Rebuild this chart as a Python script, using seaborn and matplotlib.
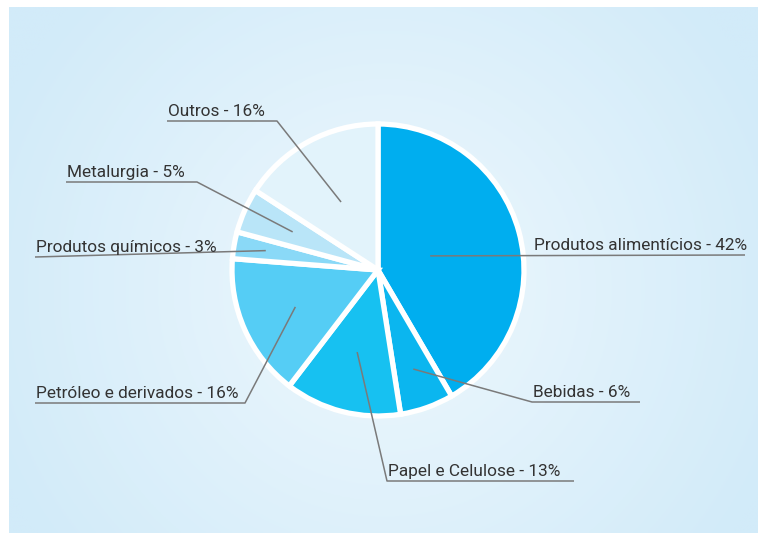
import numpy as np
import matplotlib.pyplot as plt
import seaborn as sns

sns.set_theme(style="white")
plt.rcParams['font.family'] = ['Roboto', 'DejaVu Sans']

# data
setores = ['Produtos alimentícios', 'Bebidas', 'Papel e Celulose',
           'Petróleo e derivados', 'Produtos químicos', 'Metalurgia', 'Outros']
percentuais = [42, 6, 13, 16, 3, 5, 16]
cores = ['#00aeef', '#0bb6ef', '#17c1f1', '#55cdf5', '#8ad9f7', '#b9e5f8', '#e2f3fb']

# layout of labels (pixels): underline y, underline x range, elbow x, anchor radius
W, H = 758, 533
CX, CY, R = 378, 270, 146
layout = {
    'Produtos alimentícios': dict(ux=(533, 745), uy=255, elbow=None, rf=0.37),
    'Bebidas': dict(ux=(532, 640), uy=402, elbow=532, rf=0.72),
    'Papel e Celulose': dict(ux=(387, 574), uy=481, elbow=387, rf=0.58),
    'Petróleo e derivados': dict(ux=(35, 245), uy=403, elbow=245, rf=0.62),
    'Produtos químicos': dict(ux=(35, 265), uy=257, elbow=None, rf=0.78),
    'Metalurgia': dict(ux=(66, 197), uy=182, elbow=197, rf=0.64),
    'Outros': dict(ux=(167, 277), uy=121, elbow=277, rf=0.53),
}


def px(x, y):
    return (x - CX) / R, (CY - y) / R


fig = plt.figure(figsize=(W / 100, H / 100), dpi=100)
fig.patch.set_facecolor('white')
ax = fig.add_axes([0, 0, 1, 1])
ax.axis('off')

# radial gradient panel
x0, y0 = px(9, 7)
x1, y1 = px(W, H)
gx = np.linspace(x0, x1, 300)
gy = np.linspace(y0, y1, 220)
XX, YY = np.meshgrid(gx, gy)
gcx, gcy = px(385, 290)
d = np.sqrt((XX - gcx) ** 2 + (YY - gcy) ** 2)
d = np.clip(d / 2.9, 0, 1)
edge = np.array([210, 235, 249]) / 255
center = np.array([238, 248, 253]) / 255
img = center[None, None, :] * (1 - d[..., None]) + edge[None, None, :] * d[..., None]
ax.imshow(img, extent=(x0, x1, y1, y0), origin='upper', zorder=0, aspect='auto')

wedges, _ = ax.pie(percentuais, colors=cores, startangle=90, counterclock=False,
                   radius=1.0, center=(0, 0), frame=False,
                   wedgeprops=dict(edgecolor='white', linewidth=3.8))
for w in wedges:
    w.set_zorder(2)

for w, nome, pct in zip(wedges, setores, percentuais):
    lay = layout[nome]
    ang = np.deg2rad((w.theta1 + w.theta2) / 2)
    axp, ayp = lay['rf'] * np.cos(ang), lay['rf'] * np.sin(ang)
    ux0, uy = px(lay['ux'][0], lay['uy'])
    ux1, _ = px(lay['ux'][1], lay['uy'])
    if lay['elbow'] is None:
        far = ux1 if axp > 0 else ux0
        xs, ys = [axp, far], [ayp, uy]
    else:
        ex, _ = px(lay['elbow'], lay['uy'])
        far = ux1 if abs(ex - ux0) < 1e-9 else ux0
        xs, ys = [axp, ex, far], [ayp, uy, uy]
    ax.plot(xs, ys, color='#7a7a7a', lw=1.1, zorder=3, solid_capstyle='butt')
    tx, ty = px(lay['ux'][0] + 1, lay['uy'] - 5)
    ax.text(tx, ty, f'{nome} - {pct}%', fontsize=12.4, fontweight='normal',
            color='#333333', ha='left', va='baseline', zorder=4)

ax.set_aspect('auto')
ax.set_xlim(px(0, 0)[0], px(W, 0)[0])
ax.set_ylim(px(0, H)[1], px(0, 0)[1])
ax.axis('off')

fig.savefig('out.png', dpi=100)
